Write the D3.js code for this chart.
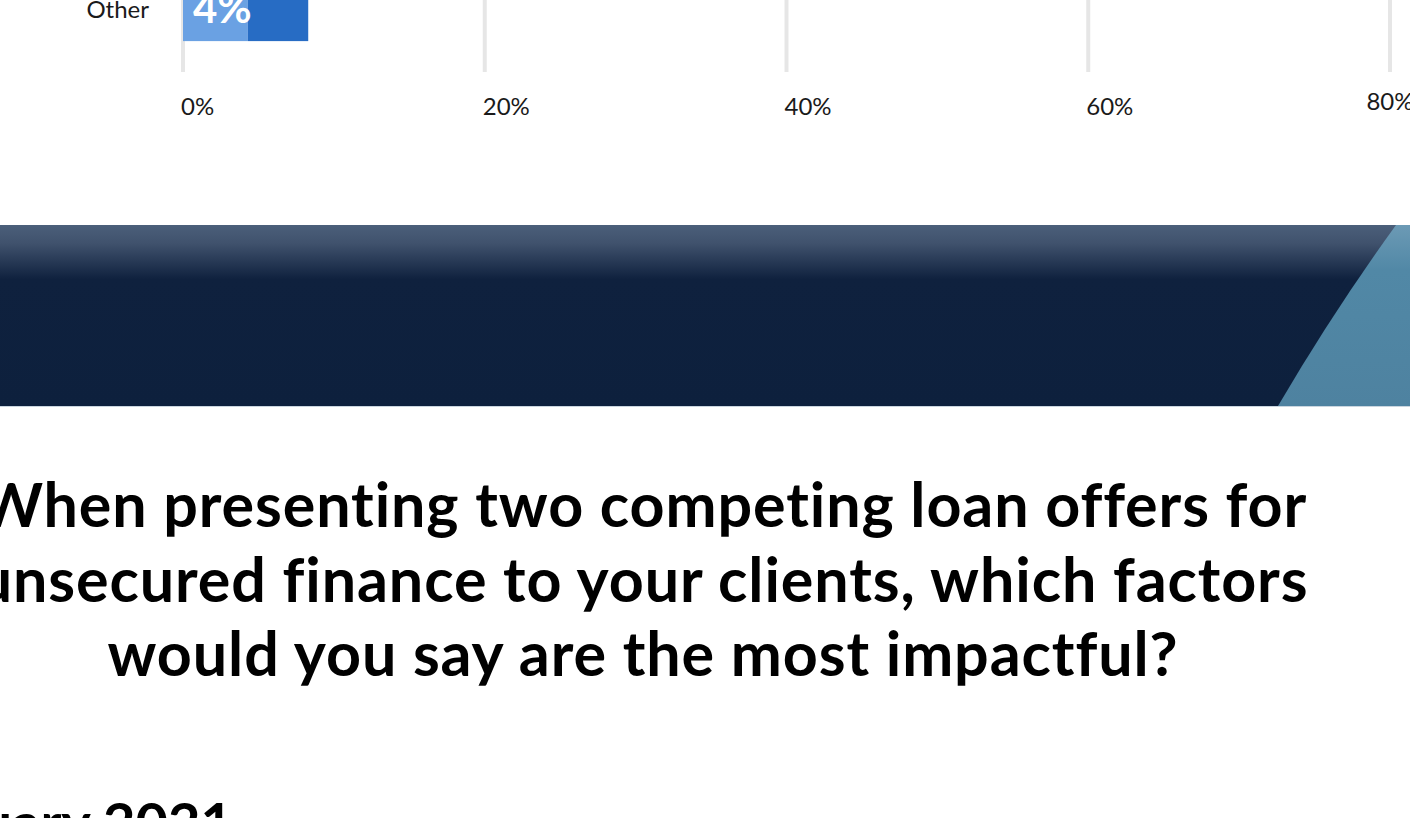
<!DOCTYPE html>
<html>
<head>
<meta charset="utf-8">
<script src="https://cdn.jsdelivr.net/npm/d3@7"></script>
<style>
  html, body { margin: 0; padding: 0; background: #fff; overflow: hidden; }
  svg { display: block; font-family: Lato, "Open Sans", sans-serif; font-variant-ligatures: none; }
</style>
</head>
<body>
<script>
// visible part of the chart: only the last row is in view
var categories = ["Other"];
var firstChoice = [4.3];
var secondChoice = [4.0];
var tickValues = [0, 20, 40, 60, 80];
var tickLabels = ["0%", "20%", "40%", "60%", "80%"];

var titleLines = [
    "When presenting two competing loan offers for",
    "unsecured finance to your clients, which factors",
    "would you say are the most impactful?"
];
var dateText = "January 2021";

var width = 1410,
    height = 818;

var svg = d3.select("body").append("svg")
    .attr("width", width)
    .attr("height", height);

var x = d3.scaleLinear()
    .domain([0, 80])
    .range([183, 1390]);

var y = d3.scaleBand()
    .domain(categories)
    .range([-30, 50])
    .padding(0.125);

var axisBottom = 72;

// grid lines
svg.append("g").selectAll("line")
    .data(tickValues)
    .enter().append("line")
    .attr("x1", function (d) { return x(d); })
    .attr("x2", function (d) { return x(d); })
    .attr("y1", -10)
    .attr("y2", axisBottom)
    .attr("stroke", "#e6e6e6")
    .attr("stroke-width", 4);

// tick labels
svg.append("g").selectAll("text")
    .data(tickValues)
    .enter().append("text")
    .attr("x", function (d, i) { return i === tickValues.length - 1 ? x(d) : x(d) - 2; })
    .attr("y", function (d, i) { return i === tickValues.length - 1 ? 110 : 115; })
    .attr("text-anchor", function (d, i) { return i === tickValues.length - 1 ? "middle" : "start"; })
    .attr("font-size", 24)
    .attr("fill", "#1a1a1a")
    .text(function (d, i) { return tickLabels[i]; });

// bars
var rows = svg.append("g").selectAll("g")
    .data(categories)
    .enter().append("g");

rows.append("rect")
    .attr("x", x(0))
    .attr("y", function (d) { return y(d); })
    .attr("width", function (d, i) { return x(firstChoice[i]) - x(0); })
    .attr("height", y.bandwidth())
    .attr("fill", "#6aa1e3");

rows.append("rect")
    .attr("x", function (d, i) { return x(firstChoice[i]); })
    .attr("y", function (d) { return y(d); })
    .attr("width", function (d, i) { return x(firstChoice[i] + secondChoice[i]) - x(firstChoice[i]); })
    .attr("height", y.bandwidth())
    .attr("fill", "#276cc4");

rows.append("text")
    .attr("x", x(0) + 10)
    .attr("y", function (d) { return y(d) + y.bandwidth() / 2; })
    .attr("dy", "0.3em")
    .attr("font-size", 42)
    .attr("font-weight", 700)
    .attr("fill", "#fff")
    .text(function (d, i) { return Math.round(firstChoice[i]) + "%"; });

rows.append("text")
    .attr("x", 149)
    .attr("y", function (d) { return y(d) + y.bandwidth() / 2; })
    .attr("dy", "0.35em")
    .attr("text-anchor", "end")
    .attr("font-size", 24)
    .attr("fill", "#1a1a1a")
    .text(function (d) { return d; });

// banner
var defs = svg.append("defs");
var grad = defs.append("linearGradient")
    .attr("id", "bannerGrad")
    .attr("x1", 0).attr("y1", 0).attr("x2", 0).attr("y2", 1);
grad.append("stop").attr("offset", "0%").attr("stop-color", "#4b5f7a");
grad.append("stop").attr("offset", "10%").attr("stop-color", "#40526d");
grad.append("stop").attr("offset", "30%").attr("stop-color", "#0f213e");
grad.append("stop").attr("offset", "100%").attr("stop-color", "#0d203d");

var grad2 = defs.append("linearGradient")
    .attr("id", "wedgeGrad")
    .attr("x1", 0).attr("y1", 0).attr("x2", 0).attr("y2", 1);
grad2.append("stop").attr("offset", "0%").attr("stop-color", "#6c9ab5");
grad2.append("stop").attr("offset", "25%").attr("stop-color", "#5188a6");
grad2.append("stop").attr("offset", "100%").attr("stop-color", "#4e82a0");

var bTop = 225, bBottom = 406;
svg.append("rect")
    .attr("x", 0).attr("y", bTop)
    .attr("width", width).attr("height", bBottom - bTop)
    .attr("fill", "url(#bannerGrad)");

var wedge = d3.path();
wedge.moveTo(1396, bTop);
wedge.lineTo(width, bTop);
wedge.lineTo(width, bBottom);
wedge.lineTo(1278, bBottom);
wedge.quadraticCurveTo(1333, 312, 1396, bTop);
wedge.closePath();
svg.append("path")
    .attr("d", wedge.toString())
    .attr("fill", "url(#wedgeGrad)");

svg.append("line")
    .attr("x1", 0).attr("x2", width)
    .attr("y1", bBottom + 0.5).attr("y2", bBottom + 0.5)
    .attr("stroke", "#c9d5df")
    .attr("stroke-width", 1);

// title
svg.append("g").selectAll("text")
    .data(titleLines)
    .enter().append("text")
    .attr("x", 643)
    .attr("y", function (d, i) { return 527 + i * 74.5; })
    .attr("text-anchor", "middle")
    .attr("font-size", 61)
    .attr("font-weight", 700)
    .attr("letter-spacing", 0.9)
    .attr("fill", "#000")
    .text(function (d) { return d; });

// date
svg.append("text")
    .attr("x", 233)
    .attr("y", 843)
    .attr("text-anchor", "end")
    .attr("font-size", 56)
    .attr("font-weight", 700)
    .attr("fill", "#000")
    .text(dateText);
</script>
</body>
</html>
